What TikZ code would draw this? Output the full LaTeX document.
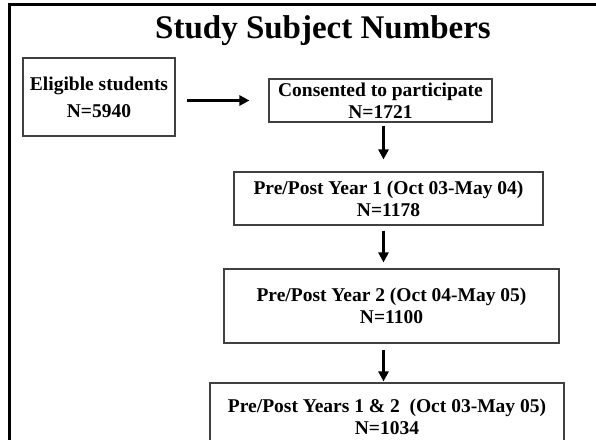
\documentclass[tikz,border=0pt]{standalone}
\usepackage{fontspec}
\setmainfont{Liberation Serif}
\usetikzlibrary{arrows.meta, positioning, calc}

\begin{document}
\begin{tikzpicture}[
        x=1pt, y=-1pt, >={Triangle[width=10pt,length=10pt]},
        box/.style={draw=black!75, line width=1.1pt, align=center, inner sep=0pt,
          font=\bfseries\fontsize{19.5}{22}\selectfont},
        flow/.style={->, line width=3pt},
        frame/.style={line width=2.8pt}
        ]
  \clip (0,0) rectangle (596,439);
  \fill[white] (0,0) rectangle (596,439);
  \draw[frame] (9.3,460) -- (9.3,4.7) -- (610,4.7);

  \node[font=\bfseries\fontsize{33}{36}\selectfont, anchor=base] (title) at (323,38) {Study Subject Numbers};

  \node[box, minimum width=152pt, minimum height=78pt] (elig) at (99,97)      {Eligible students\\[5pt]N=5940};
  \node[box, minimum width=223pt, minimum height=43pt] (cons) at (380.5,100.5) {Consented to participate\\N=1721};
  \node[box, minimum width=309pt, minimum height=53pt] (y1)   at (388.5,198.5) {Pre/Post Year 1 (Oct 03-May 04)\\N=1178};
  \node[box, minimum width=335pt, minimum height=74pt] (y2)   at (391.5,306)   {Pre/Post Year 2 (Oct 04-May 05)\\N=1100};
  \node[box, minimum width=354pt, minimum height=68pt] (y12)  at (387,417)     {Pre/Post Years 1 \& 2\ \ (Oct 03-May 05)\\N=1034};

  \coordinate (axis) at (383.5,0);

  \draw[flow, shorten <=11pt, shorten >=19pt] (elig.east |- cons) -- (cons.west);
  \draw[flow, shorten <=3pt, shorten >=12pt] (cons.south -| axis) -- (y1.north -| axis);
  \draw[flow, shorten <=5pt, shorten >=6pt]  (y1.south -| axis)   -- (y2.north -| axis);
  \draw[flow, shorten <=6pt, shorten >=1pt]  (y2.south -| axis)   -- (y12.north -| axis);
\end{tikzpicture}
\end{document}
